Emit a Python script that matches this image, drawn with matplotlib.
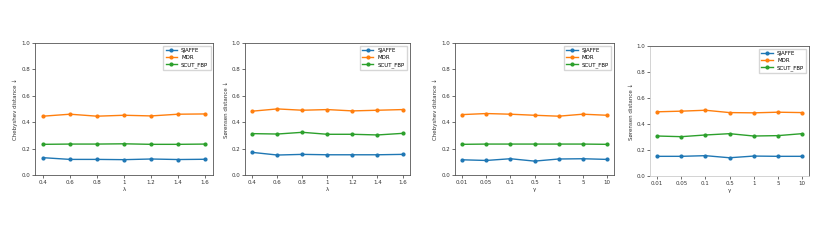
import matplotlib
matplotlib.use('Agg')
from matplotlib import pyplot as plt

names = ['SJAFFE', 'MDR', 'SCUT_FBP']
colors = ['#1f77b4', '#ff7f0e', '#2ca02c']

ticks_a = ['0.4', '0.6', '0.8', '1', '1.2', '1.4', '1.6']
ticks_b = ['0.01', '0.05', '0.1', '0.5', '1', '5', '10']

# panel 1: chebyshev vs lambda
p1_sjaffe = [0.132, 0.119, 0.119, 0.117, 0.122, 0.118, 0.120]
p1_mdr = [0.446, 0.461, 0.446, 0.453, 0.448, 0.461, 0.463]
p1_scut = [0.233, 0.235, 0.235, 0.237, 0.233, 0.233, 0.235]

# panel 2: sorensen vs lambda
p2_sjaffe = [0.172, 0.152, 0.157, 0.154, 0.154, 0.154, 0.157]
p2_mdr = [0.484, 0.501, 0.491, 0.496, 0.486, 0.491, 0.496]
p2_scut = [0.314, 0.311, 0.324, 0.309, 0.309, 0.304, 0.316]

# panel 3: chebyshev vs gamma
p3_sjaffe = [0.116, 0.111, 0.124, 0.106, 0.122, 0.124, 0.119]
p3_mdr = [0.458, 0.466, 0.461, 0.453, 0.446, 0.461, 0.453]
p3_scut = [0.233, 0.235, 0.235, 0.235, 0.235, 0.235, 0.233]

# panel 4: sorensen vs gamma
p4_sjaffe = [0.152, 0.152, 0.157, 0.141, 0.154, 0.152, 0.152]
p4_mdr = [0.494, 0.499, 0.506, 0.488, 0.486, 0.491, 0.488]
p4_scut = [0.308, 0.303, 0.316, 0.326, 0.308, 0.311, 0.326]

panels = [
    (ticks_a, [p1_sjaffe, p1_mdr, p1_scut], 'Chebyshev distance ↓', 'λ', [0.042, 0.291, 0.215, 0.535]),
    (ticks_a, [p2_sjaffe, p2_mdr, p2_scut], 'Sørensen distance ↓', 'λ', [0.295, 0.291, 0.199, 0.535]),
    (ticks_b, [p3_sjaffe, p3_mdr, p3_scut], 'Chebyshev distance ↓', 'γ', [0.548, 0.291, 0.192, 0.535]),
    (ticks_b, [p4_sjaffe, p4_mdr, p4_scut], 'Sørensen distance ↓', 'γ', [0.783, 0.287, 0.192, 0.527]),
]

fig = plt.figure(figsize=(8.3, 2.47), dpi=100)

for k, (ticks, series, ylab, xlab, pos) in enumerate(panels):
    ax = fig.add_axes(pos)
    x = list(range(len(ticks)))
    for vals, name, c in zip(series, names, colors):
        ax.plot(x, vals, color=c, marker='o', markersize=2, linewidth=1.0, label=name)
    ax.set_ylim(0, 1.0)
    ax.set_yticks([0.0, 0.2, 0.4, 0.6, 0.8, 1.0])
    ax.set_xticks(x)
    ax.set_xticklabels(ticks)
    ax.tick_params(labelsize=4, length=2, width=0.5, pad=1.5, colors='#333333')
    ax.set_ylabel(ylab, fontsize=4, labelpad=2, color='#333333')
    ax.set_xlabel(xlab, fontsize=4, labelpad=1.5, color='#333333')
    for s in ax.spines.values():
        s.set_linewidth(0.6)
        s.set_color('#555555')
    if k == 3:
        ax.spines['left'].set_color('#cccccc')
        ax.spines['bottom'].set_color('#cccccc')
    ax.legend(loc='upper right', fontsize=4, handlelength=2, borderpad=0.4,
              labelspacing=0.4, frameon=True, fancybox=False, edgecolor='#cccccc')

fig.savefig('out.png', dpi=100)
